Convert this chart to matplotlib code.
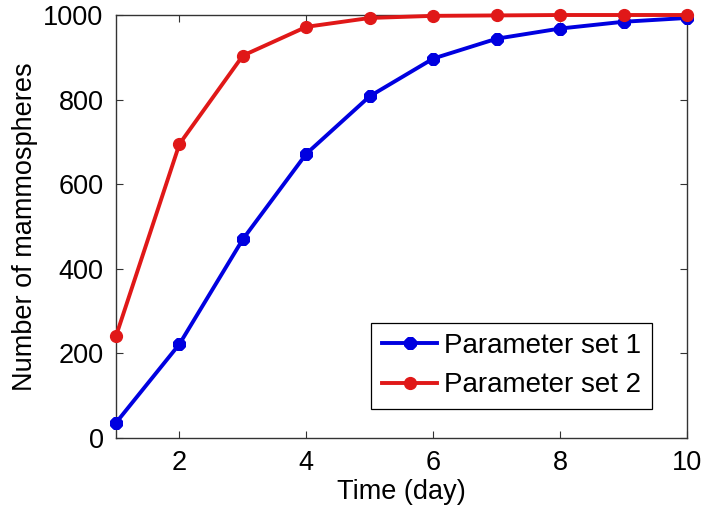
import matplotlib
matplotlib.use("Agg")
import matplotlib.pyplot as plt

# data
days = [1, 2, 3, 4, 5, 6, 7, 8, 9, 10]
set1 = [36, 222, 470, 672, 808, 897, 944, 968, 984, 993]
set2 = [241, 695, 904, 972, 993, 998, 999, 1000, 1000, 1000]
labels = ["Parameter set 1", "Parameter set 2"]
xticks = [2, 4, 6, 8, 10]
yticks = [0, 200, 400, 600, 800, 1000]

plt.rcParams["font.family"] = ["Liberation Sans", "DejaVu Sans"]

fig = plt.figure(figsize=(7.04, 5.12), dpi=100)
ax = fig.add_axes([116 / 704, 1 - 438 / 512, (687 - 116) / 704, (438 - 15) / 512])

blue = "#0000e0"
red = "#e01818"

ax.plot(days, set1, color=blue, lw=2.8, marker=(8, 2, 0), ms=9, mew=3.4,
        mec=blue, mfc=blue, label=labels[0], zorder=3, clip_on=False)
ax.plot(days, set2, color=red, lw=2.8, marker="o", ms=8.5, mec=red, mfc=red,
        label=labels[1], zorder=3, clip_on=False)

ax.set_xlim(1, 10)
ax.set_ylim(0, 1000)
ax.set_xticks(xticks)
ax.set_yticks(yticks)

for s in ax.spines.values():
    s.set_color("#333333")
    s.set_linewidth(1.0)
ax.tick_params(direction="in", length=5, width=0.8, color="#333333",
               top=True, right=True, labelsize=19.5)
ax.tick_params(axis="x", pad=9)
ax.tick_params(axis="y", pad=9)

ax.set_xlabel("Time (day)", fontsize=19.5, labelpad=2)
ax.set_ylabel("Number of mammospheres", fontsize=19.5, labelpad=4)

leg = ax.legend(loc="lower right", fontsize=20, frameon=True, fancybox=False,
                edgecolor="black", framealpha=1, handlelength=2.0,
                handletextpad=0.25, borderpad=0.38, labelspacing=0.48,
                borderaxespad=0, bbox_to_anchor=(652 / 704, 1 - 409 / 512),
                bbox_transform=fig.transFigure)
leg.get_frame().set_linewidth(0.9)

fig.savefig("out.png", dpi=100)
